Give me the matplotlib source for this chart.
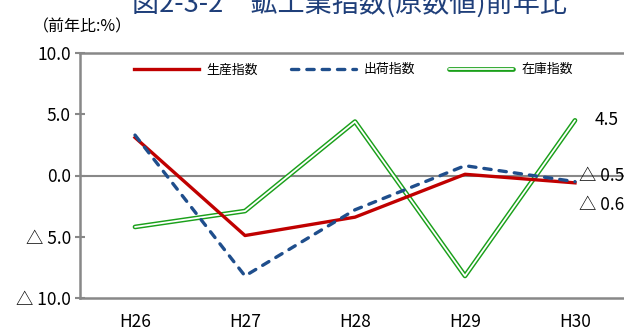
import matplotlib
matplotlib.use("Agg")
from matplotlib import pyplot as plt
from matplotlib.legend_handler import HandlerTuple

plt.rcParams['font.family'] = ['Noto Sans CJK JP', 'DejaVu Sans']

# data
years = ['H26', 'H27', 'H28', 'H29', 'H30']
production = [3.1, -4.9, -3.4, 0.1, -0.6]
shipments = [3.3, -8.2, -2.8, 0.8, -0.5]
inventory = [-4.2, -2.9, 4.4, -8.2, 4.5]
yticks = [10, 5, 0, -5, -10]


def fmt(v):
    # negative values written with a triangle
    if v < 0:
        return '△ %.1f' % abs(v)
    return '%.1f' % v


fig = plt.figure(figsize=(6.24, 3.34), dpi=100)
ax = fig.add_axes([80 / 624, 1 - 298 / 334, 550 / 624, 245 / 334])

x = list(range(len(years)))
grey = '#888888'

ax.axhline(0, color=grey, lw=1.5, zorder=1)

l_prod, = ax.plot(x, production, color='#c00000', lw=2.4, zorder=3)
l_ship, = ax.plot(x, shipments, color='#1f4e8c', lw=2.4, ls=(0, (2.2, 2.4)),
                  dash_capstyle='round', zorder=4)
l_inv_out, = ax.plot(x, inventory, color='#1aa01a', lw=3.4, zorder=2,
                     solid_capstyle='round', solid_joinstyle='round')
l_inv_in, = ax.plot(x, inventory, color='white', lw=1.3, zorder=2,
                    solid_capstyle='round', solid_joinstyle='round')

ax.set_xlim(-0.5, 4.5)
ax.set_ylim(-10, 10)
ax.set_xticks(x)
ax.set_xticklabels(years, fontsize=12.5)
ax.set_yticks(yticks)
ax.set_yticklabels([fmt(v) for v in yticks], fontsize=12.5)
ax.tick_params(axis='x', length=0, pad=11)
ax.tick_params(axis='y', direction='inout', length=7, width=1.5, color=grey, pad=3)

for side in ['left', 'bottom', 'top']:
    ax.spines[side].set_color(grey)
    ax.spines[side].set_linewidth(1.8)
ax.spines['right'].set_visible(False)

leg = ax.legend([l_prod, l_ship, (l_inv_out, l_inv_in)], ['生産指数', '出荷指数', '在庫指数'],
                handler_map={tuple: HandlerTuple(ndivide=1)},
                loc='upper center', bbox_to_anchor=(0.497, 1.005), ncol=3, frameon=False,
                fontsize=9.3, handlelength=5.0, columnspacing=2.6, handletextpad=0.6)

# end labels
ax.annotate(fmt(inventory[-1]), (4, inventory[-1]), xytext=(14, 0), textcoords='offset points',
            fontsize=12.5, va='center', ha='left')
ax.annotate(fmt(shipments[-1]), (4, shipments[-1]), xytext=(3, 4), textcoords='offset points',
            fontsize=12.5, va='center', ha='left')
ax.annotate(fmt(production[-1]), (4, production[-1]), xytext=(3, -16), textcoords='offset points',
            fontsize=12.5, va='center', ha='left')

fig.text(350 / 624, 1 - 18 / 334, '図2-3-2　鉱工業指数(原数値)前年比', fontsize=19.5,
         color='#1f3f7a', ha='center', va='bottom')
fig.text(33 / 624, 1 - 27 / 334, '（前年比:%）', fontsize=11.5, ha='left', va='center')

fig.savefig('out.png', dpi=100)
